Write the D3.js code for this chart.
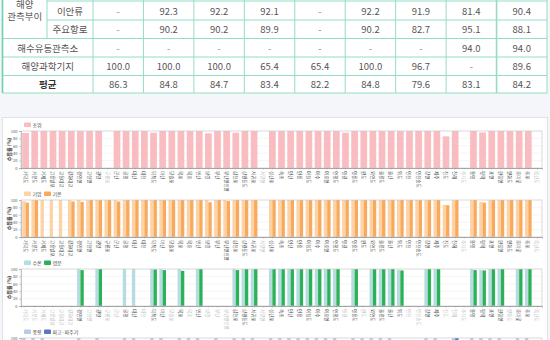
<!DOCTYPE html>
<html><head><meta charset="utf-8">
<script src="https://cdn.jsdelivr.net/npm/d3@7"></script>
<style>
html,body{margin:0;padding:0;background:#f4f6f9;}
svg{display:block;font-family:"Noto Sans CJK KR","Noto Sans",sans-serif;}
</style></head><body>
<svg id="c" width="550" height="340"></svg>
<script>
// ---------- table data ----------
const tableGroup = ["해양", "관측부이"];
const tableRows = ["이안류", "주요항로", "해수유동관측소", "해양과학기지", "평균"];
const tableVals = [
  ["-", "92.3", "92.2", "92.1", "-", "92.2", "91.9", "81.4", "90.4"],
  ["-", "90.2", "90.2", "89.9", "-", "90.2", "82.7", "95.1", "88.1"],
  ["-", "-", "-", "-", "-", "-", "-", "94.0", "94.0"],
  ["100.0", "100.0", "100.0", "65.4", "65.4", "100.0", "96.7", "-", "89.6"],
  ["86.3", "84.8", "84.7", "83.4", "82.2", "84.8", "79.6", "83.1", "84.2"]
];

// ---------- chart data ----------
const stations = ["가덕도","거문도","거제도","고흥발포","교동대교","강화대교","경인항","고현항","광양","구룡포",
  "군산","궁평","대산","대천","덕적도","마산","모슬포","목포","묵호","변산",
  "보령","부산","부산항신항","삼천포","상왕등도","서귀포","서망항","성산포","속초","안산",
  "안흥","어청도","여수","여호항","연평도","영광","영흥도","완도","외연도","울릉도",
  "울산","위도","인천","인천송도","장항","제주","진도","진해","추자도","통영",
  "평택","포항","한림항","향화도","호미곶","후포","흑산도"];
const yTicks = [0, 20, 40, 60, 80, 100];
const tide = [94.6,100,100,100,100,100,100,100,100,null,
  100,100,100,100,95.5,100,100,100,100,100,
  93.7,100,100,95.5,100,100,null,100,100,100,
  100,100,100,100,100,95.5,100,100,100,100,
  100,100,100,100,100,100,85.5,100,null,100,
  96,100,100,100,100,100,null];
const airPress = [97,100,100,100,100,100,100,100,100,100,
  100,100,100,100,100,100,100,100,100,100,
  100,100,100,100,100,100,null,100,100,100,
  100,100,100,100,100,100,100,100,100,100,
  100,100,100,100,100,100,87,100,null,100,
  95,100,100,100,100,100,null];
const airTemp = [93,100,null,null,null,96,95,100,100,100,
  96,100,100,100,100,100,100,100,100,100,
  94,100,97,100,100,100,null,100,100,100,
  100,100,100,100,100,100,100,100,100,100,
  100,100,100,100,100,100,86,100,null,100,
  93,100,100,100,100,100,null];
const waterTemp = [null,null,null,null,null,null,100,null,100,null,
  null,100,100,null,100,100,null,100,null,100,
  null,null,null,100,100,100,null,100,100,100,
  100,100,100,100,100,null,100,null,100,100,
  100,98,null,null,100,100,null,null,null,100,
  97,100,100,null,100,100,null];
const salinity = [null,null,null,null,null,null,97,null,100,null,
  null,null,null,null,99,97,null,95,null,100,
  null,null,null,97,100,100,null,100,100,100,
  100,100,100,100,100,null,100,null,100,100,
  100,96,null,null,100,100,null,null,null,97,
  96,100,100,null,100,100,null];
const windDir = [100,100,100,null,null,null,100,null,100,null,
  null,100,100,null,100,100,null,100,100,100,
  null,100,null,100,100,100,null,100,100,100,
  100,100,100,100,100,null,100,100,100,100,
  100,null,null,null,100,100,null,100,null,100,
  100,100,100,null,100,100,null];
const wave = [null,null,null,null,null,null,null,null,null,null,
  null,null,null,null,null,null,null,null,null,null,
  null,null,null,null,null,null,null,null,null,null,
  null,null,null,null,null,null,null,null,null,null,
  null,null,null,null,null,null,null,100,null,null,
  null,null,null,null,null,null,null];

const panels = [
  {names: ["조위"], series: [tide], colors: ["#f8bcc1"]},
  {names: ["기압", "기온"], series: [airPress, airTemp], colors: ["#fdd3a6", "#f9a95b"]},
  {names: ["수온", "염분"], series: [waterTemp, salinity], colors: ["#b5dcdf", "#2db158"]},
  {names: ["풍향", "파고·파주기"], series: [windDir, wave], colors: ["#b4cbea", "#5a77c4"]}
];

const svg = d3.select("#c");

// ---------- table ----------
const colX = [2.5, 47, 93];
const numW = (547 - 93) / 9;
for (let j = 1; j <= 9; j++) colX.push(93 + numW * j);
const rowY = [1, 20, 38.5, 57, 75.5, 93];
const lineC = "#93dcc5";
const tg = svg.append("g");
tg.append("rect").attr("x", 2.5).attr("y", -20).attr("width", 544.5).attr("height", 113).attr("fill", "#fff");
// horizontal lines
rowY.forEach((y, i) => {
  const x0 = i < 2 ? 47 : 2.5;
  tg.append("line").attr("x1", x0).attr("x2", 547).attr("y1", y).attr("y2", y)
    .attr("stroke", lineC).attr("stroke-width", 1);
});
// vertical lines
colX.forEach((x, i) => {
  const y0 = i === 1 ? -20 : -20;
  const y1 = i === 1 ? 38.5 : 93;
  tg.append("line").attr("x1", x).attr("x2", x).attr("y1", y0).attr("y2", y1)
    .attr("stroke", i === 0 ? "#6fcfae" : lineC).attr("stroke-width", (i === 0 || i === 10) ? 1.6 : 1);
});
const txtC = "#555";
tableGroup.forEach((t, i) => {
  tg.append("text").attr("x", (colX[0] + colX[1]) / 2).attr("y", 3.5 + i * 12)
    .attr("text-anchor", "middle").attr("dominant-baseline", "central")
    .attr("font-size", 9.5).attr("fill", txtC).text(t);
});
tableRows.forEach((r, i) => {
  const cy = (rowY[i] + rowY[i + 1]) / 2;
  const cx = i < 2 ? (colX[1] + colX[2]) / 2 : (colX[0] + colX[2]) / 2;
  tg.append("text").attr("x", cx).attr("y", cy).attr("text-anchor", "middle")
    .attr("dominant-baseline", "central").attr("font-size", 9.5)
    .attr("font-weight", i === 4 ? "bold" : "normal")
    .attr("fill", i === 4 ? "#333" : txtC).text(r);
  tableVals[i].forEach((v, j) => {
    tg.append("text").attr("x", colX[j + 2] + numW / 2).attr("y", cy)
      .attr("text-anchor", "middle").attr("dominant-baseline", "central")
      .attr("font-size", 9.5).attr("fill", v === "-" ? "#888" : txtC).text(v);
  });
});

// ---------- card ----------
svg.append("rect").attr("x", 2.5).attr("y", 117.5).attr("width", 545).attr("height", 240)
  .attr("fill", "#fff").attr("stroke", "#dfe2e6");

// ---------- panels ----------
const plotL = 21, plotR = 542, plotH = 37;
const x = d3.scaleBand().domain(stations).range([plotL, plotR]).paddingInner(0.27).paddingOuter(0.135);
const tops = [131, 200, 269, 338];

panels.forEach((p, pi) => {
  const top = tops[pi], bottom = top + plotH;
  const g = svg.append("g");
  const y = d3.scaleLinear().domain([0, 100]).range([bottom, top]);
  // legend
  let lx = 24;
  p.names.forEach((n, k) => {
    g.append("rect").attr("x", lx).attr("y", top - 8.5).attr("width", 7).attr("height", 4.5)
      .attr("rx", 0.8).attr("fill", p.colors[k]);
    const t = g.append("text").attr("x", lx + 8.5).attr("y", top - 6.2).attr("dominant-baseline", "central")
      .attr("font-size", 5).attr("fill", "#444").text(n);
    lx += 20;
  });
  // grid
  g.selectAll(".gl").data(yTicks.slice(1, -1)).enter().append("line")
    .attr("x1", plotL).attr("x2", plotR).attr("y1", d => y(d)).attr("y2", d => y(d))
    .attr("stroke", "#eeeeee").attr("stroke-width", 0.6);
  // y axis
  const ya = g.append("g").attr("transform", `translate(${plotL},0)`)
    .call(d3.axisLeft(y).tickValues(yTicks).tickSize(2).tickPadding(1.5));
  ya.select(".domain").attr("stroke", "#999").attr("stroke-width", 0.6);
  ya.selectAll(".tick line").attr("stroke", "#999").attr("stroke-width", 0.5);
  ya.selectAll("text").attr("font-size", 4).attr("fill", "#555").attr("font-family", "'Noto Sans CJK KR',sans-serif");
  g.append("text").attr("transform", `translate(8,${(top + bottom) / 2}) rotate(-90)`)
    .attr("text-anchor", "middle").attr("dominant-baseline", "central")
    .attr("font-size", 5).attr("font-weight", "bold").attr("fill", "#333").text("수집률 (%)");
  // bars
  const sub = d3.scaleBand().domain(d3.range(p.series.length)).range([0, x.bandwidth()]);
  p.series.forEach((s, k) => {
    g.selectAll(".b" + k).data(stations.map((st, i) => ({st, v: s[i]})).filter(d => d.v != null))
      .enter().append("rect")
      .attr("x", d => x(d.st) + sub(k)).attr("width", sub.bandwidth())
      .attr("y", d => y(d.v)).attr("height", d => y(0) - y(d.v)).attr("fill", p.colors[k]);
  });
  // frame
  g.append("rect").attr("x", plotL).attr("y", top).attr("width", plotR - plotL).attr("height", plotH)
    .attr("fill", "none").attr("stroke", "#c9c9c9").attr("stroke-width", 0.7);
  // x axis
  const xa = g.append("g").attr("transform", `translate(0,${bottom})`)
    .call(d3.axisBottom(x).tickSize(1.5).tickPadding(0));
  xa.select(".domain").attr("stroke", "#888").attr("stroke-width", 0.7);
  xa.selectAll(".tick line").attr("stroke", "#999").attr("stroke-width", 0.5);
  xa.selectAll("text")
    .attr("font-size", 4.5).attr("font-family", "'Noto Sans CJK KR',sans-serif")
    .attr("fill", d => { const i = stations.indexOf(d); return p.series.some(s => s[i] != null) ? "#444" : "#bbb"; })
    .attr("text-anchor", "start").attr("dominant-baseline", "central")
    .attr("transform", "translate(0,3) rotate(90)").attr("x", 0).attr("y", 0).attr("dy", null);
});
</script>
</body></html>
